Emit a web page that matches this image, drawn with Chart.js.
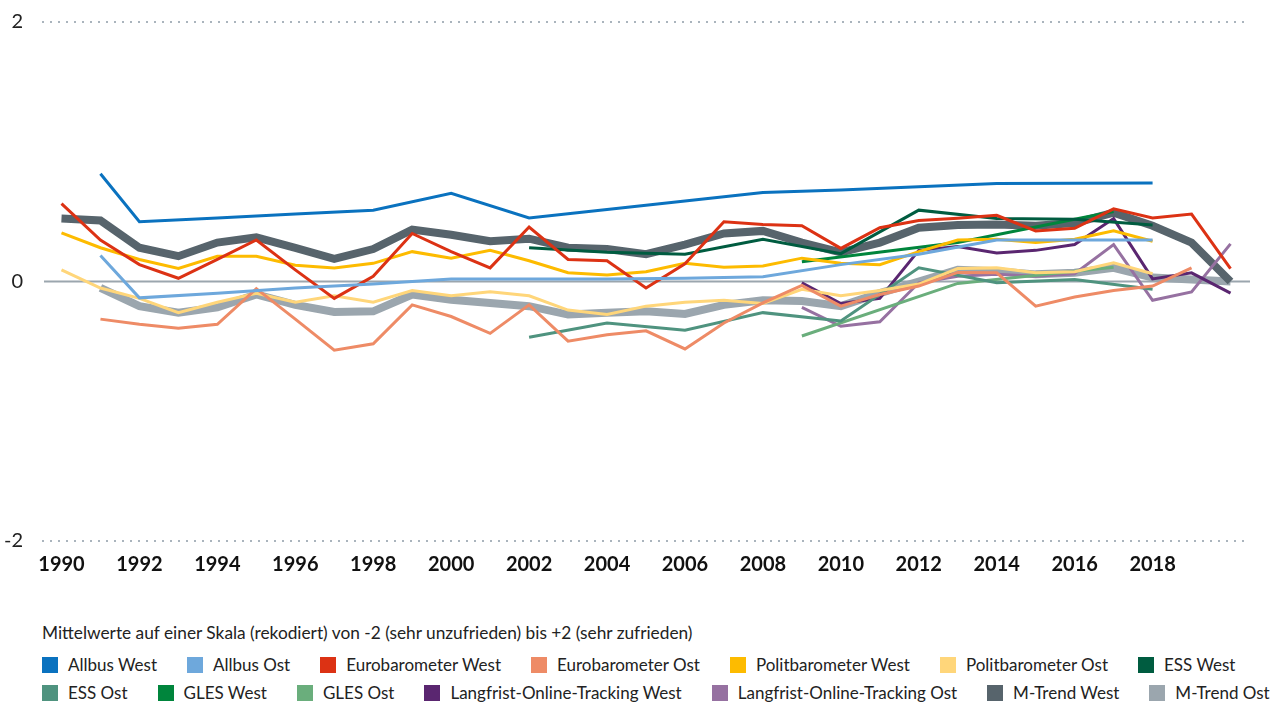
<!DOCTYPE html>
<html>
<head>
<meta charset="utf-8">
<script src="https://cdn.jsdelivr.net/npm/chart.js@4.4.1/dist/chart.umd.min.js"></script>
<style>
  html, body { margin: 0; padding: 0; background: #fff; }
  #wrap { position: relative; width: 1283px; height: 706px; overflow: hidden; font-family: Lato, "Noto Sans", sans-serif; }
  #chartBox { position: absolute; left: 0; top: 0; width: 1283px; height: 593px; }
  #legend { position: absolute; left: 42px; top: 621px; width: 1241px; color: #222; font-size: 17px; }
  #legend .title { line-height: 24px; margin-bottom: 10px; font-size: 17.3px; }
  #legend .items { display: flex; flex-wrap: wrap; column-gap: 30px; row-gap: 8px; }
  #legend .item { display: flex; align-items: center; line-height: 20px; white-space: nowrap; }
  #legend .box { width: 16px; height: 16px; margin-right: 10px; flex: none; }
</style>
</head>
<body>
<div id="wrap">
  <div id="chartBox"><canvas id="c"></canvas></div>
  <div id="legend"></div>
</div>
<script>
const years = ['1990','1991','1992','1993','1994','1995','1996','1997','1998','1999','2000','2001','2002','2003','2004','2005','2006','2007','2008','2009','2010','2011','2012','2013','2014','2015','2016','2017','2018','2019','2020'];
const xTickLabels = ['1990','','1992','','1994','','1996','','1998','','2000','','2002','','2004','','2006','','2008','','2010','','2012','','2014','','2016','','2018','',''];
const yTicks = [-2, 0, 2];
const legendTitle = 'Mittelwerte auf einer Skala (rekodiert) von -2 (sehr unzufrieden) bis +2 (sehr zufrieden)';

const allbusWest = [null,0.83,0.46,null,0.49,null,0.52,null,0.55,null,0.68,null,0.49,null,0.555,null,0.62,null,0.685,null,0.705,null,0.73,null,0.755,null,0.757,null,0.76,null,null];
const allbusOst = [null,0.20,-0.126,null,-0.09,null,-0.05,null,-0.02,null,0.02,null,0.02,null,0.02,null,0.025,null,0.036,null,0.13,null,0.21,null,0.32,null,0.32,null,0.32,null,null];
const euroWest = [0.60,0.32,0.13,0.025,0.17,0.32,0.09,-0.13,0.04,0.37,0.23,0.105,0.42,0.17,0.16,-0.05,0.137,0.46,0.44,0.43,0.255,0.415,0.47,0.487,0.51,0.39,0.41,0.56,0.49,0.52,0.10];
const euroOst = [null,-0.29,-0.33,-0.36,-0.33,-0.055,-0.29,-0.53,-0.48,-0.18,-0.27,-0.40,-0.18,-0.46,-0.41,-0.38,-0.52,-0.32,-0.165,-0.03,-0.19,-0.10,-0.035,0.07,0.067,-0.19,-0.12,-0.07,-0.035,0.105,null];
const politWest = [0.375,0.26,0.17,0.10,0.195,0.195,0.125,0.105,0.14,0.23,0.18,0.24,0.16,0.067,0.05,0.075,0.14,0.11,0.12,0.18,0.14,0.13,0.23,0.32,0.325,0.30,0.325,0.39,0.31,null,null];
const politOst = [0.09,-0.05,-0.13,-0.24,-0.16,-0.09,-0.16,-0.11,-0.16,-0.07,-0.11,-0.08,-0.11,-0.22,-0.255,-0.19,-0.16,-0.145,-0.17,-0.06,-0.11,-0.07,-0.02,0.10,0.105,0.067,0.075,0.145,0.06,null,null];
const essWest = [null,null,null,null,null,null,null,null,null,null,null,null,0.26,null,0.225,null,0.21,null,0.325,null,0.215,null,0.55,null,0.485,null,0.48,null,0.435,null,null];
const essOst = [null,null,null,null,null,null,null,null,null,null,null,null,-0.43,null,-0.32,null,-0.375,null,-0.24,null,-0.305,null,0.105,null,-0.01,null,0.015,null,-0.06,null,null];
const glesWest = [null,null,null,null,null,null,null,null,null,null,null,null,null,null,null,null,null,null,null,0.152,null,null,null,0.30,null,null,null,0.54,null,null,null];
const glesOst = [null,null,null,null,null,null,null,null,null,null,null,null,null,null,null,null,null,null,null,-0.42,null,null,null,-0.015,null,null,null,0.11,null,null,null];
const lotWest = [null,null,null,null,null,null,null,null,null,null,null,null,null,null,null,null,null,null,null,-0.01,-0.17,-0.13,0.24,0.27,0.22,0.24,0.285,0.485,0.02,0.067,-0.09];
const lotOst = [null,null,null,null,null,null,null,null,null,null,null,null,null,null,null,null,null,null,null,-0.20,-0.345,-0.31,-0.01,0.04,0.055,0.04,0.06,0.285,-0.145,-0.08,0.29];
const mTrendWest = [0.485,0.47,0.26,0.195,0.30,0.34,0.26,0.175,0.25,0.40,0.36,0.31,0.33,0.26,0.25,0.21,0.285,0.37,0.39,0.30,0.225,0.30,0.415,0.435,0.44,0.43,0.45,0.53,0.43,0.30,0.00];
const mTrendOst = [null,-0.05,-0.19,-0.24,-0.20,-0.10,-0.18,-0.235,-0.23,-0.10,-0.14,-0.165,-0.19,-0.255,-0.24,-0.23,-0.25,-0.18,-0.145,-0.15,-0.19,-0.09,0.00,0.09,0.08,0.055,0.067,0.105,0.03,0.015,0.00];

const seriesNames = ['Allbus West','Allbus Ost','Eurobarometer West','Eurobarometer Ost','Politbarometer West','Politbarometer Ost','ESS West','ESS Ost','GLES West','GLES Ost','Langfrist-Online-Tracking West','Langfrist-Online-Tracking Ost','M-Trend West','M-Trend Ost'];
const seriesData = [allbusWest, allbusOst, euroWest, euroOst, politWest, politOst, essWest, essOst, glesWest, glesOst, lotWest, lotOst, mTrendWest, mTrendOst];
const seriesColors = ['#0a72bf','#6ea8dc','#dc3214','#ee8b66','#fdbb00','#ffd67a','#005c40','#4f937f','#00853c','#6aae7c','#5a2670','#9671a1','#57646c','#9ba6ae'];
const seriesWidths = [3,3,3,3,3,3,3,3,3,3,3,3,8,8];

const datasets = seriesNames.map((name, i) => ({
  label: name,
  data: seriesData[i],
  borderColor: seriesColors[i],
  backgroundColor: seriesColors[i],
  borderWidth: seriesWidths[i],
  pointRadius: 0,
  pointHoverRadius: 0,
  tension: 0,
  spanGaps: true,
  fill: false
}));

const zeroLine = {
  id: 'zeroLine',
  beforeDatasetsDraw(chart) {
    const {ctx, chartArea} = chart;
    const y = chart.scales.y.getPixelForValue(0);
    ctx.save();
    ctx.strokeStyle = '#9ba6ae';
    ctx.lineWidth = 2;
    ctx.beginPath();
    ctx.moveTo(chartArea.left + 2, y);
    ctx.lineTo(chartArea.right, y);
    ctx.stroke();
    ctx.restore();
  }
};

new Chart(document.getElementById('c'), {
  type: 'line',
  data: { labels: years, datasets },
  plugins: [zeroLine],
  options: {
    responsive: true,
    maintainAspectRatio: false,
    animation: false,
    events: [],
    layout: { padding: { top: 22, right: 33, bottom: 4, left: 0 } },
    plugins: { legend: { display: false }, tooltip: { enabled: false } },
    scales: {
      x: {
        type: 'category',
        offset: true,
        grid: { display: false, drawTicks: false },
        border: { display: false },
        ticks: {
          autoSkip: false,
          maxRotation: 0,
          padding: 12,
          color: '#111',
          font: { family: 'Lato', size: 20, weight: 'bold' },
          callback: (v, i) => xTickLabels[i]
        }
      },
      y: {
        min: yTicks[0],
        max: yTicks[yTicks.length - 1],
        afterBuildTicks: (scale) => { scale.ticks = yTicks.map(v => ({ value: v })); },
        afterFit: (scale) => { scale.width = 42; scale.paddingTop = 0; scale.paddingBottom = 0; },
        grid: {
          drawTicks: false,
          lineWidth: 2,
          color: (ctx) => (ctx.tick && ctx.tick.value === 0) ? 'rgba(0,0,0,0)' : '#aab4bd'
        },
        border: { display: false, dash: [2, 6] },
        ticks: {
          padding: 19,
          color: '#222',
          font: { family: 'Lato', size: 20 },
          callback: (v) => String(v)
        }
      }
    }
  }
});

// HTML legend built from the series arrays
const legendEl = document.getElementById('legend');
const t = document.createElement('div');
t.className = 'title';
t.textContent = legendTitle;
legendEl.appendChild(t);
const items = document.createElement('div');
items.className = 'items';
seriesNames.forEach((name, i) => {
  const it = document.createElement('div');
  it.className = 'item';
  const b = document.createElement('span');
  b.className = 'box';
  b.style.background = seriesColors[i];
  const s = document.createElement('span');
  s.textContent = name;
  it.appendChild(b);
  it.appendChild(s);
  items.appendChild(it);
});
legendEl.appendChild(items);
</script>
</body>
</html>
